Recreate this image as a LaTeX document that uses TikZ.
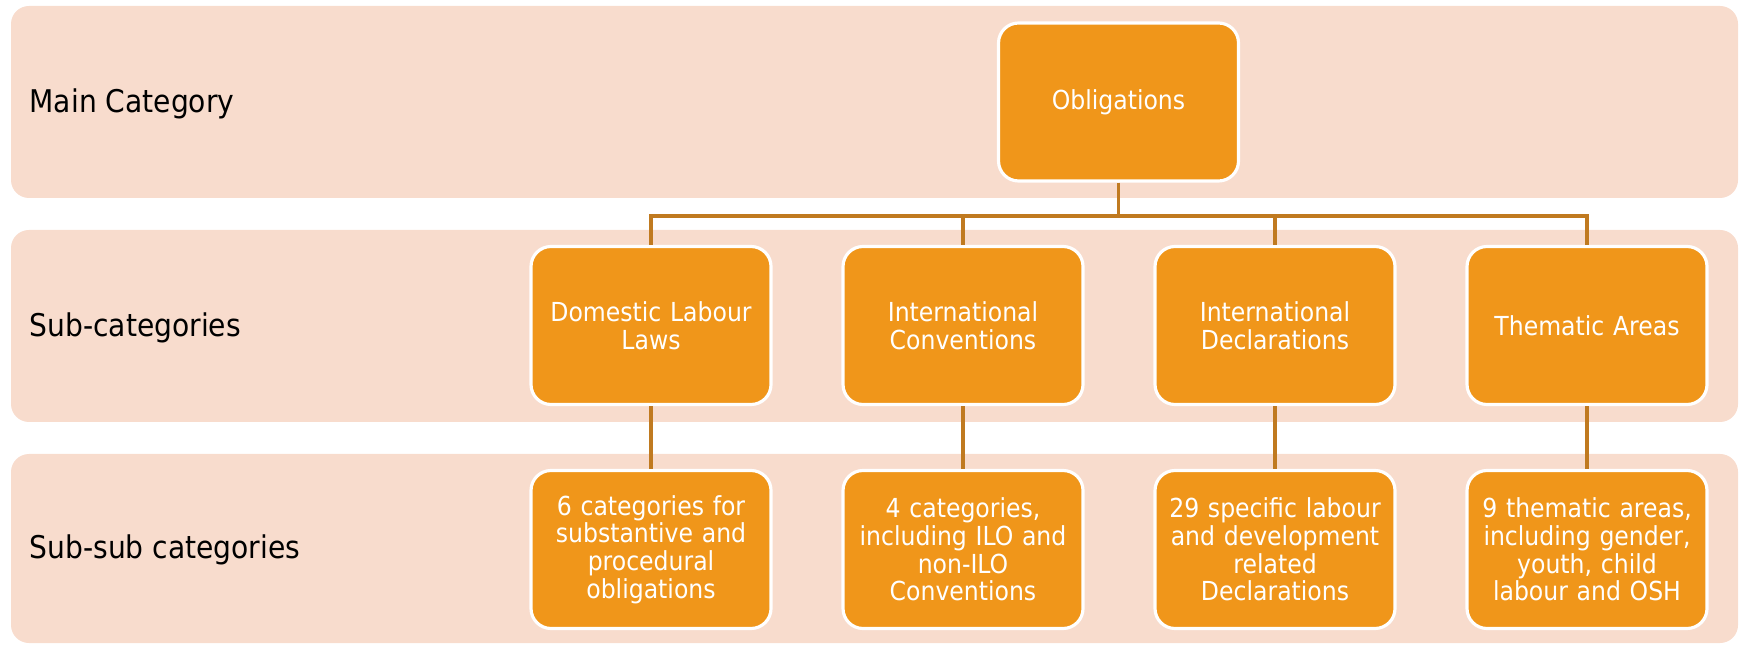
\documentclass[tikz,border=0pt]{standalone}
\usepackage{fontspec}
\setmainfont{DejaVu Sans Condensed}
\usepackage{tikz}
\usetikzlibrary{positioning,calc}
\definecolor{bandfill}{HTML}{F8DCCD}
\definecolor{boxfill}{HTML}{F0961A}
\definecolor{linkcol}{HTML}{C07A20}
\begin{document}
\begin{tikzpicture}[
	band/.style = {fill=bandfill, rounded corners=0.18cm},
	rowlabel/.style = {anchor=base west, inner sep=0pt, font=\fontsize{8.9}{11}\selectfont},
	box/.style = {draw=white, line width=0.9pt, fill=boxfill, rounded corners=0.2cm, minimum width=2.4cm, minimum height=1.58cm, text width=2.36cm, align=center, inner sep=0pt, text=white, font=\fontsize{7.45}{7.85}\selectfont},
	link/.style = {draw=linkcol, line width=1.1pt}]
		\useasboundingbox (0,0) rectangle (17.39,6.44);
		\fill [band] (0.11,4.46) rectangle (17.38,6.38);
		\fill [band] (0.11,2.22) rectangle (17.38,4.14);
		\fill [band] (0.11,0.01) rectangle (17.38,1.90);
		\node [rowlabel](main_lbl) at (0.29,5.31) {Main Category};
		\node [rowlabel](sub_lbl) at (0.29,3.07) {Sub-categories};
		\node [rowlabel](subsub_lbl) at (0.29,0.85) {Sub-sub categories};
		\node [box](obl) at (11.185,5.42) {Obligations};
		\node [box](dom_law) at (6.51,3.185) {Domestic Labour\\Laws};
		\node [box](int_conv) at (9.63,3.185) {International\\Conventions};
		\node [box](int_decl) at (12.75,3.185) {International\\Declarations};
		\node [box](them_area) at (15.87,3.185) {Thematic Areas};
		\node [box](dom_law_sub) at (6.51,0.945) {6 categories for\\substantive and\\procedural\\obligations};
		\node [box](int_conv_sub) at (9.63,0.945) {4 categories,\\including ILO and\\non-ILO\\Conventions};
		\node [box](int_decl_sub) at (12.75,0.945) {29 specific labour\\and development\\related\\Declarations};
		\node [box](them_area_sub) at (15.87,0.945) {9 thematic areas,\\including gender,\\youth, child\\labour and OSH};
		\draw [link] (obl.south) -- ++(0,-0.33) coordinate (bus);
		\foreach \n in {dom_law,int_conv,int_decl,them_area}{
			\draw [link] (bus) -| (\n.north);
			\draw [link] (\n.south) -- (\n_sub.north);
		}
\end{tikzpicture}
\end{document}
